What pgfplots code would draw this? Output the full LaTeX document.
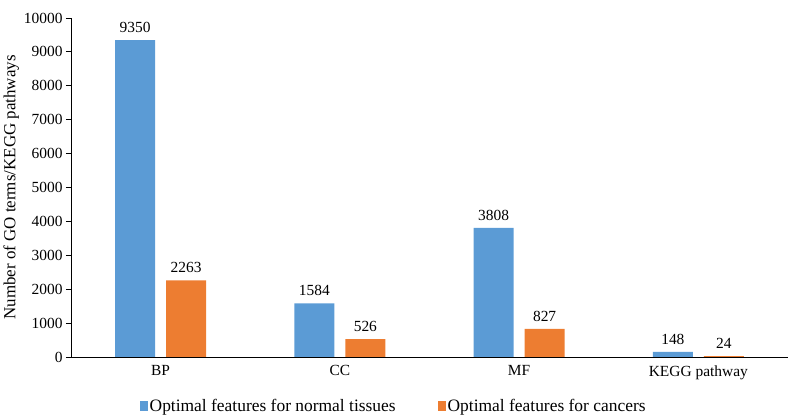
\documentclass[border=0pt]{standalone}
\usepackage{fontspec}
\setmainfont{Liberation Serif}
\usepackage{pgfplots}
\pgfplotsset{compat=1.18}

\definecolor{cblue}{HTML}{5B9BD5}
\definecolor{corange}{HTML}{ED7D31}

\begin{document}
\begin{tikzpicture}
\begin{axis}[
  name=ax,
  scale only axis,
  width=717bp, height=339bp,
  ybar=11bp, bar width=40bp,
  xmin=-0.5, xmax=3.5,
  ymin=0, ymax=10000,
  ytick={0,1000,...,10000},
  xtick=data,
  xticklabels={BP,CC,MF,KEGG pathway},
  x tick style={draw=none},
  y tick style={black, thick},
  tick align=outside,
  major tick length=5bp,
  axis x line*=bottom,
  axis y line*=left,
  axis line style={black, thick, -},
  ylabel={Number of GO terms/KEGG pathways},
  ylabel style={yshift=-2bp},
  tick label style={font=\fontsize{15.5}{18}\selectfont},
  label style={font=\fontsize{17}{20}\selectfont},
  /pgf/number format/assume math mode=true,
  scaled y ticks=false,
  yticklabel style={/pgf/number format/1000 sep={}},
  nodes near coords,
  nodes near coords style={font=\fontsize{15.5}{18}\selectfont, black, yshift=4bp,
    /pgf/number format/1000 sep={}},
  legend style={at={(0.45,-0.145)}, anchor=center, draw=none,
    legend columns=2, font=\fontsize{17.5}{20}\selectfont,
    /tikz/every even column/.append style={column sep=40bp}},
  legend image code/.code={\fill[#1] (2bp,-5bp) rectangle (10bp,5bp);},
]
\addplot[fill=cblue, draw=none] coordinates {(0,9350) (1,1584) (2,3808) (3,148)};
\addplot[fill=corange, draw=none] coordinates {(0,2263) (1,526) (2,827) (3,24)};
\legend{Optimal features for normal tissues, Optimal features for cancers}
\end{axis}
\path ([xshift=-71bp,yshift=-61bp]ax.south west) rectangle ([xshift=1bp,yshift=18bp]ax.north east);
\end{tikzpicture}
\end{document}
